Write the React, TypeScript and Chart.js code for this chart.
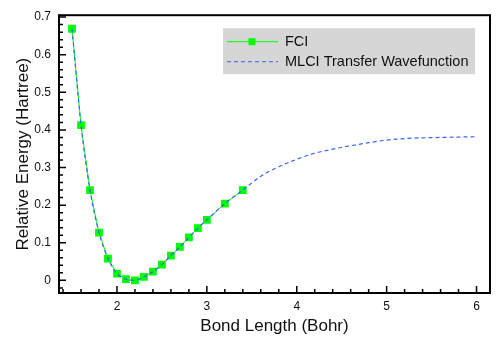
import React, { useEffect, useRef } from "react";
import { Chart, registerables } from "chart.js";

Chart.register(...registerables);

const bondLength = [1.5, 1.6, 1.7, 1.8, 1.9, 2.0, 2.1, 2.2, 2.3, 2.4, 2.5, 2.6, 2.7, 2.8, 2.9, 3.0, 3.2, 3.4];
const fciEnergy = [0.669, 0.413, 0.240, 0.127, 0.058, 0.018, 0.003, 0.000, 0.009, 0.023, 0.042, 0.066, 0.089, 0.114, 0.139, 0.161, 0.204, 0.240];

const mlciBond = [1.5, 1.6, 1.7, 1.8, 1.9, 2.0, 2.1, 2.2, 2.3, 2.4, 2.5, 2.6, 2.7, 2.8, 2.9, 3.0, 3.2, 3.4, 3.6, 3.8, 4.0, 4.2, 4.4, 4.6, 4.8, 5.0, 5.2, 5.4, 5.6, 5.8, 6.0];
const mlciEnergy = [0.669, 0.413, 0.240, 0.127, 0.058, 0.018, 0.003, 0.000, 0.009, 0.023, 0.042, 0.066, 0.089, 0.114, 0.139, 0.161, 0.204, 0.240, 0.277, 0.302, 0.322, 0.338, 0.349, 0.358, 0.366, 0.373, 0.377, 0.379, 0.380, 0.381, 0.382];

const xTicks = [2, 3, 4, 5, 6];
const yTicks = [0, 0.1, 0.2, 0.3, 0.4, 0.5, 0.6, 0.7];
const xMinorTicks = [1.4, 1.6, 1.8, 2.2, 2.4, 2.6, 2.8, 3.2, 3.4, 3.6, 3.8, 4.2, 4.4, 4.6, 4.8, 5.2, 5.4, 5.6, 5.8, 6.0];
const yMinorTicks = [-0.02, 0.02, 0.04, 0.06, 0.08, 0.12, 0.14, 0.16, 0.18, 0.22, 0.24, 0.26, 0.28, 0.32, 0.34, 0.36, 0.38, 0.42, 0.44, 0.46, 0.48, 0.52, 0.54, 0.56, 0.58, 0.62, 0.64, 0.66, 0.68];

const seriesNames = ["FCI", "MLCI Transfer Wavefunction"];
const xTitle = "Bond Length (Bohr)";
const yTitle = "Relative Energy (Hartree)";

const GREEN = "#00ff00";
const BLUE = "#3d63ec";
const FONT = "'Liberation Sans', Arial, Helvetica, sans-serif";

const framePlugin = {
  id: "frameTicks",
  afterDraw(chart: any) {
    const { ctx, chartArea: a, scales } = chart;
    const xs = scales.x;
    const ys = scales.y;
    ctx.save();
    ctx.strokeStyle = "#000";
    ctx.lineWidth = 1.5;
    ctx.beginPath();
    for (const v of xTicks) {
      const p = xs.getPixelForValue(v);
      ctx.moveTo(p, a.bottom);
      ctx.lineTo(p, a.bottom - 7);
    }
    for (const v of xMinorTicks) {
      const p = xs.getPixelForValue(v);
      ctx.moveTo(p, a.bottom);
      ctx.lineTo(p, a.bottom - 4);
    }
    for (const v of yTicks) {
      const p = ys.getPixelForValue(v);
      ctx.moveTo(a.left, p);
      ctx.lineTo(a.left + 7, p);
    }
    for (const v of yMinorTicks) {
      const p = ys.getPixelForValue(v);
      ctx.moveTo(a.left, p);
      ctx.lineTo(a.left + 4, p);
    }
    ctx.stroke();
    ctx.lineWidth = 2;
    ctx.strokeRect(a.left, a.top, a.right - a.left, a.bottom - a.top);

    // legend
    const bx = a.right - 15;
    const left = 223;
    const top = a.top + 13;
    const h = 46;
    ctx.fillStyle = "#d6d6d6";
    ctx.fillRect(left, top, bx - left, h);
    const r1 = top + 13.5;
    const r2 = top + 33.5;
    ctx.lineWidth = 1;
    ctx.strokeStyle = GREEN;
    ctx.beginPath();
    ctx.moveTo(227, r1);
    ctx.lineTo(278, r1);
    ctx.stroke();
    ctx.fillStyle = GREEN;
    ctx.fillRect(252 - 3.5, r1 - 3.5, 7, 7);
    ctx.strokeStyle = BLUE;
    ctx.setLineDash([4, 3]);
    ctx.beginPath();
    ctx.moveTo(227, r2);
    ctx.lineTo(278, r2);
    ctx.stroke();
    ctx.setLineDash([]);
    ctx.fillStyle = "#111";
    ctx.font = `14.5px ${FONT}`;
    ctx.textBaseline = "middle";
    ctx.textAlign = "left";
    ctx.fillText(seriesNames[0], 285, r1);
    ctx.fillText(seriesNames[1], 285, r2);
    ctx.restore();
  },
};

export default function App() {
  const ref = useRef<HTMLCanvasElement | null>(null);
  useEffect(() => {
    if (!ref.current) return;
    const chart = new Chart(ref.current, {
      type: "line",
      data: {
        datasets: [
          {
            label: seriesNames[0],
            data: bondLength.map((x, i) => ({ x, y: fciEnergy[i] })),
            borderColor: GREEN,
            backgroundColor: GREEN,
            borderWidth: 1,
            pointStyle: "rect",
            pointRadius: 5.5,
            pointBorderWidth: 0,
            pointBackgroundColor: GREEN,
            order: 1,
            tension: 0,
          },
          {
            label: seriesNames[1],
            data: mlciBond.map((x, i) => ({ x, y: mlciEnergy[i] })),
            borderColor: BLUE,
            borderWidth: 1.2,
            borderDash: [4, 3],
            pointRadius: 0,
            cubicInterpolationMode: "monotone",
            order: 0,
          },
        ],
      },
      options: {
        animation: false,
        responsive: true,
        maintainAspectRatio: false,
        layout: { padding: { top: 7, right: 8, left: 0, bottom: 0 } },
        plugins: { legend: { display: false }, tooltip: { enabled: false } },
        scales: {
          x: {
            type: "linear",
            min: 1.355,
            max: 6.15,
            grid: { display: false, drawTicks: false },
            border: { display: false },
            afterBuildTicks: (s: any) => {
              s.ticks = xTicks.map((v) => ({ value: v }));
            },
            afterFit: (s: any) => {
              s.height = 59;
            },
            ticks: {
              color: "#111",
              padding: 6,
              font: { family: FONT, size: 12 },
              maxRotation: 0,
              callback: (v: any) => String(v),
            },
            title: {
              display: true,
              text: xTitle,
              color: "#111",
              font: { family: FONT, size: 17 },
              padding: { top: 0, bottom: 15 },
            },
          },
          y: {
            type: "linear",
            min: -0.0336,
            max: 0.705,
            grid: { display: false, drawTicks: false },
            border: { display: false },
            afterBuildTicks: (s: any) => {
              s.ticks = yTicks.map((v) => ({ value: v }));
            },
            afterFit: (s: any) => {
              s.width = 59;
            },
            ticks: {
              color: "#111",
              padding: 8,
              font: { family: FONT, size: 12 },
              callback: (v: any) => (v === 0 ? "0" : Number(v).toFixed(1)),
            },
            title: {
              display: true,
              text: yTitle,
              color: "#111",
              font: { family: FONT, size: 17 },
              padding: { top: 13, bottom: 0 },
            },
          },
        },
      },
      plugins: [framePlugin],
    });
    return () => chart.destroy();
  }, []);
  return (
    <div style={{ position: "fixed", left: 0, top: 0, width: 498, height: 352, background: "#fff" }}>
      <canvas ref={ref} />
    </div>
  );
}
